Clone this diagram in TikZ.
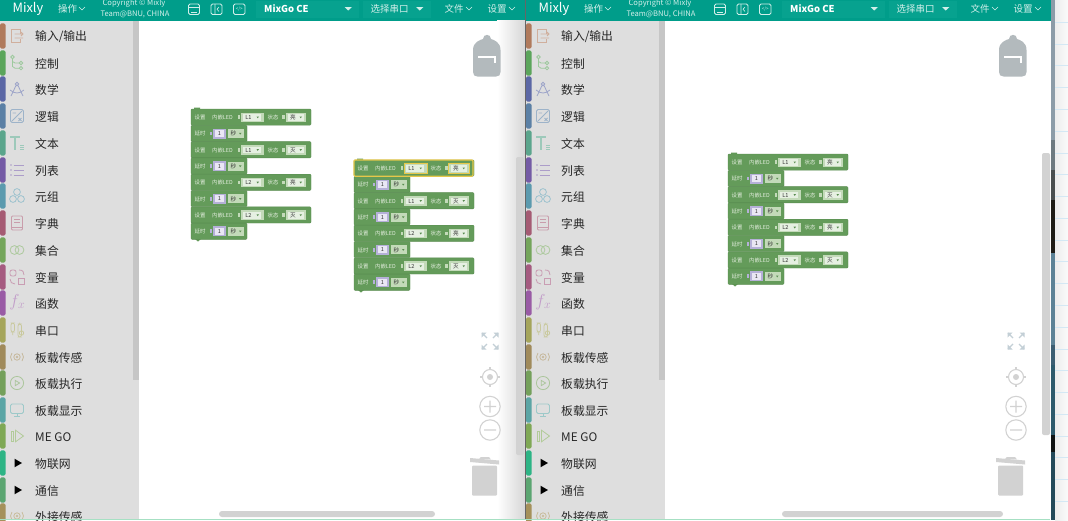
\documentclass[tikz,border=0pt]{standalone}
\usepackage{fontspec}
\setmainfont{Noto Sans CJK SC}
\definecolor{headteal}{HTML}{009D8A}
\definecolor{headpanel}{HTML}{07A28F}
\definecolor{headtext}{HTML}{D2EFEA}
\definecolor{sidegray}{HTML}{DEDEDE}
\definecolor{sidebar}{HTML}{C6C6C6}
\definecolor{toolgray}{HTML}{D2D2D2}
\definecolor{toolblue}{HTML}{C3CFD6}
\definecolor{bluegray}{HTML}{B3BABD}
\definecolor{blockgreen}{HTML}{649B5A}
\definecolor{blockedge}{HTML}{588C4F}
\definecolor{blocktext}{HTML}{E4EEDF}
\definecolor{fieldouter}{HTML}{C3DAB9}
\definecolor{fieldinner}{HTML}{E6F0E2}
\definecolor{numouter}{HTML}{B5B0D8}
\definecolor{numinner}{HTML}{E9E7F4}
\definecolor{pickyellow}{HTML}{E6C84A}
\definecolor{tabio}{HTML}{B07A5C}
\definecolor{tabctl}{HTML}{5BA55B}
\definecolor{tabmath}{HTML}{5B67A5}
\definecolor{tablogic}{HTML}{5B80A5}
\definecolor{tabtext}{HTML}{5BA58C}
\definecolor{tablist}{HTML}{745BA5}
\definecolor{tabtuple}{HTML}{5B9AAE}
\definecolor{tabdict}{HTML}{A55B73}
\definecolor{tabset}{HTML}{74A55B}
\definecolor{tabvar}{HTML}{A55B80}
\definecolor{tabfn}{HTML}{995BA5}
\definecolor{tabport}{HTML}{A5A55B}
\definecolor{tabsense}{HTML}{A08A5B}
\definecolor{tabrun}{HTML}{74A05B}
\definecolor{tabshow}{HTML}{5BA5A5}
\definecolor{tabmego}{HTML}{7FA855}
\definecolor{tabiot}{HTML}{2DB485}
\definecolor{tabcomm}{HTML}{5BA571}
\definecolor{tabext}{HTML}{A5915B}
\definecolor{stripa}{HTML}{8C9CA8}
\definecolor{stripb}{HTML}{6E7A80}
\definecolor{stripc}{HTML}{4A4F50}
\definecolor{stripd}{HTML}{1E1C16}
\definecolor{stripe}{HTML}{5C8296}
\definecolor{stripf}{HTML}{3C5E72}
\definecolor{stripg}{HTML}{2D5A6C}
\definecolor{striph}{HTML}{101414}
\definecolor{stripi}{HTML}{234A5A}
\definecolor{paperline}{HTML}{D4E8F4}
\tikzset{
	headlabel/.style={text=headtext,font=\fontsize{9.5}{11}\selectfont},
	sidelabel/.style={anchor=west,text=black!85,font=\fontsize{11.8}{14}\selectfont},
	icoline/.style={line width=0.8pt},
	headico/.style={draw=headtext,line width=0.8pt,rounded corners=1.5pt},
	chevron/.style={draw=headtext,line width=0.6pt},
	tool/.style={draw=toolgray,line width=1.1pt},
	rowtext/.style={text=blocktext,font=\fontsize{5.4}{6}\selectfont},
	fieldtext/.style={text=black!80,font=\fontsize{5.6}{6}\selectfont},
	blockfill/.style={fill=blockgreen,draw=blockedge,line width=0.4pt,rounded corners=1pt},
}
\newcommand{\icoio}{
	\draw (3,-2.5) -- (3,-6.5) -- (-6,-6.5) -- (-6,6.5) -- (3,6.5) -- (3,2.5);
	\draw (-2.5,-2) -- (6,-2) (-2.5,2) -- (6,2) (4,-4) -- (6,-2) -- (4,0);
}
\newcommand{\icoctl}{
	\draw (-4.5,-6) circle (1.7) (4,0) circle (1.7) (4,5.2) circle (1.7);
	\draw (-4.5,-4.3) -- (-4.5,3.5) -- (-2,5.2) -- (2.3,5.2) (-4.5,-1.5) -- (-2,0) -- (2.3,0);
}
\newcommand{\icomath}{
	\draw (0,-5) circle (1.7) (-1,-3.5) -- (-6,7) (1,-3.5) -- (6,7);
	\draw (-7,1) .. controls (-2,5) and (2,5) .. (7,1);
}
\newcommand{\icologic}{
	\draw[rounded corners=1.5pt] (-6.5,-6.5) rectangle (6.5,6.5);
	\draw (-5,5) -- (5,-5) (-4.5,-3) -- (-1,-3) (1.5,2) -- (4.5,5) (4.5,2) -- (1.5,5);
}
\newcommand{\icotext}{
	\draw[line width=1.3pt] (-7,-6) -- (3,-6) (-2,-6) -- (-2,7);
	\draw (3,2) -- (7,2) (3,4.2) -- (7,4.2) (3,6.4) -- (7,6.4);
}
\newcommand{\icolist}{
	\foreach \ly in {-5,0,5} {\draw (-3.5,\ly) -- (7,\ly); \fill (-6,\ly) circle (0.8);}
}
\newcommand{\icotuple}{
	\draw (0,-4) circle (3.4) (-4,3) circle (3.4) (4,3) circle (3.4);
}
\newcommand{\icodict}{
	\draw[rounded corners=1pt] (-5.5,-7) rectangle (5.5,7);
	\draw (-3,-3.5) -- (3,-3.5) (-3,-0.5) -- (3,-0.5) (-5.5,4) -- (5.5,4);
}
\newcommand{\icoset}{
	\draw (-2.5,0) circle (4.4) (2.5,0) circle (4.4);
}
\newcommand{\icovar}{
	\draw[rounded corners=2pt] (-7,-7) rectangle (-1,-1);
	\draw (2,-7) .. controls (6,-7) and (7,-5) .. (7,-2);
	\draw (-7,2) .. controls (-7,5) and (-5,7) .. (-2,7);
	\draw (1,1) rectangle (7,7);
}
\newcommand{\icofn}{
	\node (\winname-fnf) at (-2.5,-1) {\fontsize{19}{19}\selectfont$f$};
	\node (\winname-fnx) at (4.5,3) {\fontsize{12}{12}\selectfont$x$};
}
\newcommand{\icoport}{
	\draw[rounded corners=2pt] (-6,-7) rectangle (-2.5,2) (1,-6) rectangle (4.5,7);
	\draw (4.5,3) circle (2.2) (-4.2,2) -- (-4.2,5) (2.7,-6) -- (2.7,-7.5);
}
\newcommand{\icoradio}{
	\fill (0,0) circle (1.4);
	\draw (0,0) circle (3.2);
	\draw (-5,-4) .. controls (-7,-1.5) and (-7,1.5) .. (-5,4);
	\draw (5,-4) .. controls (7,-1.5) and (7,1.5) .. (5,4);
}
\newcommand{\icoplay}{
	\draw (0,0) circle (6.6);
	\draw (-1.7,-2.6) -- (2.6,0) -- (-1.7,2.6) -- cycle;
}
\newcommand{\icomon}{
	\draw[rounded corners=1.5pt] (-6.5,-6) rectangle (6.5,3.5);
	\draw (-3,6) -- (3,6) (0,3.5) -- (0,6);
}
\newcommand{\icomego}{
	\draw (-6,-5) rectangle (-3.8,5);
	\draw (-1.5,-5.8) -- (6.5,0) -- (-1.5,5.8) -- cycle;
}
\newcommand{\icotri}{
	\fill[black] (-2.5,-4.3) -- (5,0) -- (-2.5,4.3) -- cycle;
}
\newcommand{\sidelist}{
	36/tabio/{输入/输出}/\icoio,
	63/tabctl/控制/\icoctl,
	89/tabmath/数学/\icomath,
	116/tablogic/逻辑/\icologic,
	143/tabtext/文本/\icotext,
	170/tablist/列表/\icolist,
	196/tabtuple/元组/\icotuple,
	223/tabdict/字典/\icodict,
	250/tabset/集合/\icoset,
	277/tabvar/变量/\icovar,
	303/tabfn/函数/\icofn,
	330/tabport/串口/\icoport,
	357/tabsense/板载传感/\icoradio,
	383/tabrun/板载执行/\icoplay,
	410/tabshow/板载显示/\icomon,
	436/tabmego/ME GO/\icomego,
	463/tabiot/物联网/\icotri,
	490/tabcomm/通信/\icotri,
	516/tabext/外接传感/\icoradio
}
% one whole window: name, left edge
\newcommand{\mixlywindow}[2]{
	\def\winname{#1}
	\begin{scope}[shift={(#2,0)}]
		% white canvas
		\fill [white] (139,20) rectangle (525,520);
		% title bar
		\fill [headteal] (0,0) rectangle (525,20.5);
		\node (#1-mixly) [text=white,font=\fontsize{12.8}{15}\selectfont] at (28,8.8) {Mixly};
		\node (#1-op) [headlabel] at (67.5,9.3) {操作};
		\draw [chevron] (79,7) -- (82,10) -- (85,7);
		\node (#1-copy1) [headlabel,font=\fontsize{7.6}{9}\selectfont] at (134,3.8) {Copyright © Mixly};
		\node (#1-copy2) [headlabel,font=\fontsize{7.6}{9}\selectfont] at (135,14.6) {Team@BNU, CHINA};
		\draw [headico] (188.5,4) rectangle (199.5,14.5);
		\draw [chevron] (188.5,7) -- (199.5,7) (191,12) -- (197,12);
		\draw [headico] (211,4) rectangle (222,14.5);
		\draw [chevron] (215,4) -- (215,14.5) (219,7) -- (217,9.2) -- (219,11.5);
		\draw [headico] (233.5,4) rectangle (245,14.5);
		\node (#1-code) [text=headtext,font=\fontsize{4.5}{5}\selectfont] at (239.2,9.3) {</>};
		\fill [headpanel] (256,1) rectangle (359,18);
		\fill [headpanel] (363,1) rectangle (431,18);
		\node (#1-board) [text=white,font=\fontsize{9.5}{11}\bfseries\selectfont,anchor=west] at (264,9) {MixGo CE};
		\fill [headtext] (344.5,7) -- (352,7) -- (348.2,10.5) -- cycle;
		\node (#1-port) [headlabel] at (389.5,9.3) {选择串口};
		\fill [headtext] (416,7) -- (423.5,7) -- (419.7,10.5) -- cycle;
		\node (#1-file) [headlabel] at (454,9.3) {文件};
		\draw [chevron] (466,7) -- (469,10) -- (472,7);
		\node (#1-set) [headlabel] at (497,9.3) {设置};
		\draw [chevron] (509,7) -- (512,10) -- (515,7);
		% toolbox
		\fill [sidegray] (0,20.5) rectangle (139,520);
		\fill [sidebar] (133,20.5) -- (139,20.5) -- (139,380) -- (133,380) -- cycle;
		\foreach \yy/\tabcol/\lab/\ico in \sidelist {
			\fill [\tabcol,rounded corners=1.5pt] (0,\yy-12.6) rectangle (5.5,\yy+12.6);
			\begin{scope}[shift={(17,\yy)},color=\tabcol!60,icoline]
				\ico
			\end{scope}
			\node (#1-lab\yy) [sidelabel] at (35,\yy+0.9) {\lab};
		}
	\end{scope}
}
% backpack, zoom buttons and trash of one window: left edge
\newcommand{\mixlytools}[1]{
	\begin{scope}[shift={(#1,0)}]
		\fill [bluegray] (473,50) .. controls (473,42) and (480,40) .. (483,39) .. controls (483,33.5) and (491,33.5) .. (491,39)
			.. controls (494,40) and (500.5,42) .. (500.5,50) -- (500.5,72) .. controls (500.5,75) and (499,76.5) .. (496,76.5)
			-- (477.5,76.5) .. controls (474.5,76.5) and (473,75) .. (473,72) -- cycle;
		\draw [white,line width=1.1pt] (478,57) -- (495,57) -- (495,63);
		\foreach \sx/\sy in {1/1,-1/1,1/-1,-1/-1} {
			\draw [toolblue,line width=1.3pt] (490+\sx*3,341+\sy*3) -- (490+\sx*8,341+\sy*8);
			\fill [toolblue] (490+\sx*8.5,341+\sy*8.5) -- (490+\sx*3.5,341+\sy*8.5) -- (490+\sx*8.5,341+\sy*3.5) -- cycle;
		}
		\draw [tool] (490,377) circle (7.5);
		\fill [toolgray] (490,377) circle (3);
		\draw [tool] (490,367) -- (490,370) (490,384) -- (490,387) (480,377) -- (483,377) (497,377) -- (500,377);
		\draw [tool] (490,406.5) circle (10.2) (484,406.5) -- (496,406.5) (490,400.5) -- (490,412.5);
		\draw [tool] (490,430) circle (10.2) (484,430) -- (496,430);
		\fill [toolgray,rounded corners=1pt] (472,465.5) rectangle (497,495.5);
		\fill [toolgray] (470,458) -- (499,460.5) -- (499,464.5) -- (470,462) -- cycle;
		\fill [toolgray] (479,458.7) -- (481,457) -- (489,457) -- (491,459.5) -- cycle;
	\end{scope}
}
% one stack of blocks: name, x, y
\newcommand{\ledstack}[3]{
	\begin{scope}[shift={(#2,#3)}]
		\fill [blockgreen] (3,0.5) -- (6,2.5) -- (9,0.5) -- (9,-1.5) -- (3,-1.5) -- cycle;
		\fill [blockgreen] (4,130) -- (7,132.5) -- (10,130) -- cycle;
		\foreach \ii/\pin/\st in {0/L1/亮,1/L1/灭,2/L2/亮,3/L2/灭} {
			\begin{scope}[shift={(0,32.6*\ii)}]
				\draw [blockfill] (0,0) rectangle (120,16.2);
				\node (#1-set\ii) [rowtext] at (9,8.5) {设置};
				\node (#1-led\ii) [rowtext] at (31.5,8.5) {内嵌LED};
				\fill [fieldouter] (46.5,6.3) rectangle (49,10);
				\fill [fieldouter] (50,3.6) rectangle (73,13);
				\fill [fieldinner] (52,5) rectangle (70,11.8);
				\node (#1-pin\ii) [fieldtext] at (57.5,8.6) {\pin};
				\fill [blockedge] (65.5,7.5) -- (68,7.5) -- (66.7,9.3) -- cycle;
				\node (#1-state\ii) [rowtext] at (82,8.5) {状态};
				\fill [fieldouter] (91,6.3) rectangle (93.5,10);
				\fill [fieldouter] (94.5,3.6) rectangle (115,13);
				\fill [fieldinner] (96.5,5) rectangle (113,11.8);
				\node (#1-st\ii) [fieldtext] at (102,8.6) {\st};
				\fill [blockedge] (108.5,7.5) -- (111,7.5) -- (109.7,9.3) -- cycle;
				\draw [blockfill] (0,16.3) rectangle (56,32.5);
				\node (#1-wait\ii) [rowtext] at (9,24.8) {延时};
				\fill [numouter] (18.5,22.5) rectangle (21,26.3);
				\fill [numouter] (22,19.5) rectangle (35,29.5);
				\fill [numinner] (24,21) rectangle (33,28);
				\node (#1-num\ii) [fieldtext] at (28.5,24.7) {1};
				\fill [fieldouter] (37,20) rectangle (53,29);
				\node (#1-sec\ii) [fieldtext] at (42.5,24.8) {秒};
				\fill [blockedge] (48,23.8) -- (50.5,23.8) -- (49.2,25.6) -- cycle;
			\end{scope}
		}
	\end{scope}
}
\begin{document}
\begin{tikzpicture}[x=1pt,y=-1pt]
	\tikzstyle{every node}+=[inner sep=0pt]
	\useasboundingbox (0,0) rectangle (1068,520);
	% desktop behind the windows
	\fill [left color=black!7,right color=black!2] (1055,0) rectangle (1068,520);
	\foreach \gy in {0,...,23} {
		\draw [paperline,line width=0.7pt] (1055,22.2+21.78*\gy) -- (1068,22.2+21.78*\gy);
	}
	\fill [stripa] (1050,0) rectangle (1055,140);
	\fill [stripb] (1050,140) rectangle (1055,170);
	\fill [stripc] (1050,170) rectangle (1055,200);
	\fill [stripd] (1050,200) rectangle (1055,253);
	\fill [stripe] (1050,253) rectangle (1055,345);
	\fill [stripf] (1050,345) rectangle (1055,365);
	\fill [stripg] (1050,365) rectangle (1055,435);
	\fill [striph] (1050,435) rectangle (1055,452);
	\fill [stripi] (1050,452) rectangle (1055,520);
	\mixlywindow{left}{0}
	\mixlywindow{right}{526}
	% shadow of the right window on the left one
	\fill [left color=white,right color=black!16] (497,20.5) rectangle (525,519);
	\mixlytools{0}
	\mixlytools{526}
	% window edge
	\draw [black!60,line width=0.8pt] (525,0) -- (525,520);
	% scroll bars
	\fill [toolgray,rounded corners=2pt] (516,157) rectangle (524,455);
	\fill [toolgray,rounded corners=2pt] (1042,153) rectangle (1050,435);
	\fill [toolgray,rounded corners=3pt] (219,511) rectangle (435,517);
	\fill [toolgray,rounded corners=3pt] (782,511) rectangle (1003,517);
	\fill [cyan!30!green!35] (0,519) rectangle (1050,520);
	% the three stacks
	\ledstack{first}{191}{109}
	\ledstack{second}{354}{160}
	\draw [pickyellow,line width=1.1pt,rounded corners=1pt] (354,160) rectangle (473,176.2);
	\draw [pickyellow,line width=0.9pt] (404,163.6) rectangle (427,173) (448.5,163.6) rectangle (469,173);
	\ledstack{third}{728}{154}
\end{tikzpicture}
\end{document}
